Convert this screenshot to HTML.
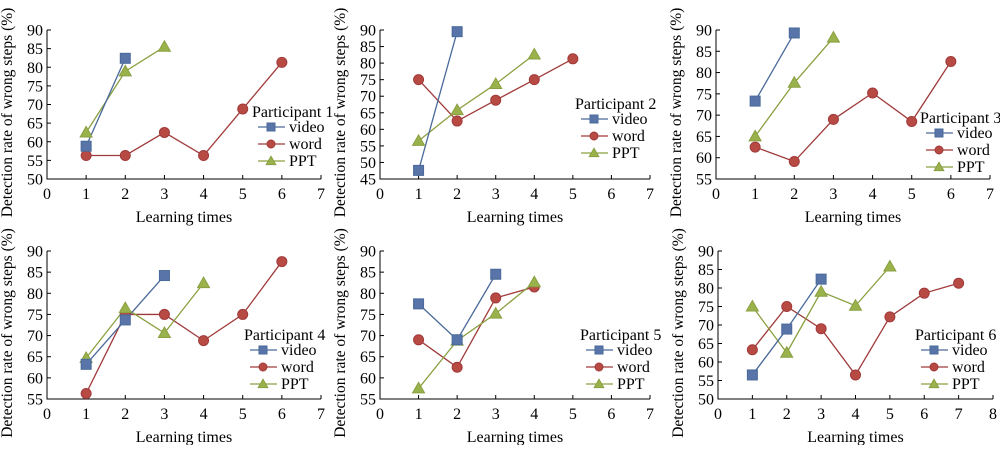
<!DOCTYPE html>
<html><head><meta charset="utf-8"><style>
body{margin:0;background:#fff}
svg text{font-family:"Liberation Serif","Times New Roman","DejaVu Serif",serif;fill:#000}
</style></head><body>
<svg id="s" width="1000" height="445" xmlns="http://www.w3.org/2000/svg"></svg>
<script>
const S=document.getElementById('s');let h='';
const panels=[
{x0:47,x1:321,y0:30,y1:179,xmax:7,ymin:50,ymax:90,lx:252,ly:117,n:1,
 v:[[1,58.8],[2,82.4]],w:[[1,56.3],[2,56.3],[3,62.5],[4,56.3],[5,68.8],[6,81.3]],p:[[1,62.5],[2,78.9],[3,85.5]]},
{x0:380,x1:650,y0:30,y1:179,xmax:7,ymin:45,ymax:90,lx:575,ly:109,n:2,
 v:[[1,47.6],[2,89.5]],w:[[1,75],[2,62.5],[3,68.8],[4,75],[5,81.3]],p:[[1,56.5],[2,65.8],[3,73.7],[4,82.6]]},
{x0:716,x1:990,y0:30,y1:179,xmax:7,ymin:55,ymax:90,lx:920,ly:123,n:3,
 v:[[1,73.3],[2,89.3]],w:[[1,62.5],[2,59.1],[3,69],[4,75.2],[5,68.5],[6,82.6]],p:[[1,65],[2,77.6],[3,88.2]]},
{x0:47,x1:321,y0:251,y1:399,xmax:7,ymin:55,ymax:90,lx:244,ly:340,n:4,
 v:[[1,63.2],[2,73.7],[3,84.2]],w:[[1,56.3],[2,75],[3,75],[4,68.8],[5,75],[6,87.5]],p:[[1,64.7],[2,76.5],[3,70.6],[4,82.4]]},
{x0:380,x1:650,y0:251,y1:399,xmax:7,ymin:55,ymax:90,lx:580,ly:340,n:5,
 v:[[1,77.5],[2,69],[3,84.5]],w:[[1,69],[2,62.5],[3,78.9],[4,81.5]],p:[[1,57.5],[2,68.8],[3,75.2],[4,82.6]]},
{x0:718,x1:993,y0:251,y1:399,xmax:8,ymin:50,ymax:90,lx:915,ly:340,n:6,
 v:[[1,56.5],[2,68.9],[3,82.4]],w:[[1,63.3],[2,75],[3,69],[4,56.5],[5,72.2],[6,78.6],[7,81.3]],p:[[1,75],[2,62.5],[3,79],[4,75.2],[5,85.8]]}
];
const C={v:'#4a6a9a',w:'#a03a3a',p:'#8aa040'};
const F={v:'#5874a8',w:'#b84a44',p:'#9ab24c'};
function mk(t,x,y,s){s=s||5;
 if(t=='v')return `<rect x="${x-s}" y="${y-s}" width="${2*s}" height="${2*s}" fill="${F.v}" stroke="${C.v}"/>`;
 if(t=='w')return `<circle cx="${x}" cy="${y}" r="${s}" fill="${F.w}" stroke="${C.w}"/>`;
 return `<polygon points="${x},${y-1.2*s} ${x+1.2*s},${y+0.9*s} ${x-1.2*s},${y+0.9*s}" fill="${F.p}" stroke="${C.p}"/>`;
}
for(const P of panels){
 const X=v=>P.x0+(P.x1-P.x0)*v/P.xmax, Y=v=>P.y1-(P.y1-P.y0)*(v-P.ymin)/(P.ymax-P.ymin);
 h+=`<path d="M${P.x0},${P.y0}V${P.y1}H${P.x1}" fill="none" stroke="#000"/>`;
 for(let v=P.ymin;v<=P.ymax;v+=5){const y=Y(v);h+=`<line x1="${P.x0}" x2="${P.x0+4}" y1="${y}" y2="${y}" stroke="#000"/><text x="${P.x0-4}" y="${y+5.5}" font-size="16" text-anchor="end">${v}</text>`;}
 for(let v=0;v<=P.xmax;v++){const x=X(v);h+=`<line x1="${x}" x2="${x}" y1="${P.y1}" y2="${P.y1-4}" stroke="#000"/><text x="${x}" y="${P.y1+20}" font-size="16" text-anchor="middle">${v}</text>`;}
 h+=`<text x="${(P.x0+P.x1)/2}" y="${P.y1+43}" font-size="16" text-anchor="middle">Learning times</text>`;
 const cx=P.x0-35,cy=(P.y0+P.y1)/2+8;
 h+=`<text transform="translate(${cx},${cy}) rotate(-90)" font-size="15.5" text-anchor="middle">Detection rate of wrong steps (%)</text>`;
 for(const k of ['w','p','v']){h+=`<polyline points="${P[k].map(d=>X(d[0])+','+Y(d[1])).join(' ')}" fill="none" stroke="${C[k]}" stroke-width="1.3"/>`;}
 for(const k of ['w','p','v'])for(const d of P[k])h+=mk(k,X(d[0]),Y(d[1]));
 h+=`<text x="${P.lx}" y="${P.ly}" font-size="16">Participant ${P.n}</text>`;
 [['v','video'],['w','word'],['p','PPT']].forEach((e,i)=>{const y=P.ly+10+i*17,x=P.lx+6;
  h+=`<line x1="${x}" x2="${x+27}" y1="${y}" y2="${y}" stroke="${C[e[0]]}" stroke-width="1.3"/>`+mk(e[0],x+13,y,4)+`<text x="${x+31}" y="${y+5}" font-size="16">${e[1]}</text>`;});
}
S.innerHTML=h;
</script>
</body></html>
